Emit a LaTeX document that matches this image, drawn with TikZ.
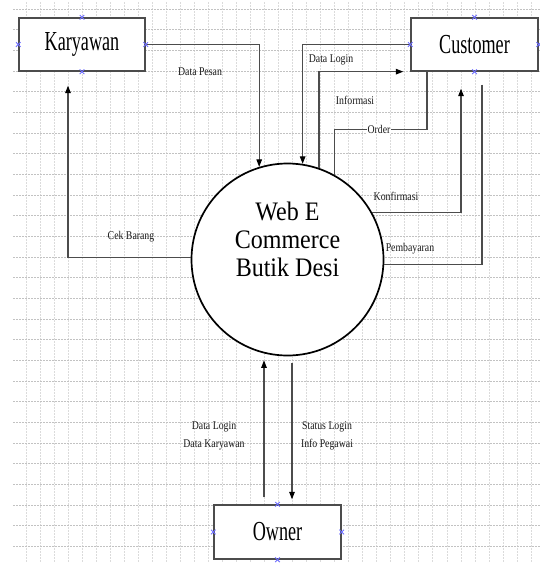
\documentclass[tikz,border=0pt]{standalone}
\usepackage{fontspec}
\setmainfont{Liberation Serif}
\usetikzlibrary{arrows.meta,calc}
\definecolor{gridH}{gray}{0.76}
\definecolor{gridV}{gray}{0.86}
\definecolor{linec}{gray}{0.3}
\definecolor{markc}{RGB}{110,110,255}
\newcommand{\boxfont}{\fontsize{27.5}{30}\selectfont}
\newcommand{\circfont}{\fontsize{26.7}{28}\selectfont}
\newcommand{\lblfont}{\fontsize{11.8}{18}\selectfont}
\newcommand{\bx}[1]{\scalebox{0.66}[1]{#1}}
\newcommand{\lb}[1]{\scalebox{0.83}[1]{#1}}
\begin{document}
\begin{tikzpicture}[x=1pt,y=-1pt,
  entity/.style={draw=linec,line width=1.3pt,fill=white,minimum width=127pt,minimum height=53pt,inner sep=0pt,font=\boxfont},
  proc/.style={circle,draw=black,line width=1.7pt,fill=white,minimum size=192pt,inner sep=0pt,font=\circfont},
  flow/.style={draw=linec,line width=1.1pt,-{Triangle[length=7.5pt,width=5.5pt,color=black]}},
  plain/.style={draw=linec,line width=1.1pt},
  lbl/.style={inner sep=1pt,font=\lblfont,align=center,text=black!90},
  gh/.style={draw=gridH,line width=0.8pt,dash pattern=on 2pt off 1pt},
  gv/.style={draw=gridV,line width=0.8pt,dash pattern=on 2pt off 1pt},
  xm/.style={draw=markc,line width=0.9pt},
]
\useasboundingbox (0,0) rectangle (540,563);
\fill[white] (0,0) rectangle (540,563);
% grid
\foreach \k in {0,...,36} \draw[gv] ({26+14.03*\k},2) -- ({26+14.03*\k},563);
\foreach \k in {0,...,26} \draw[gh] (13,{9+20.67*\k}) -- (540,{9+20.67*\k});

% entities and process
\node[entity,minimum width=126pt] (kar) at (82,44.5) {\bx{Karyawan}};
\node[entity] (cust) at (474.5,44.5) {\bx{Customer}};
\node[entity,minimum height=54pt] (own) at (277.5,532) {\bx{Owner}};
\node[proc] (circ) at (287.5,259.5) {\scalebox{0.9}[1]{\begin{tabular}{@{}c@{}}Web E\\Commerce\\Butik Desi\\[34pt]\end{tabular}}};

% connectors
\draw[flow] (kar.east) -| (circ.107.3);
\draw[flow] (circ.179) -| ($(kar.south)+(-14,14)$);
\draw[flow] (cust.west) -| (circ.81.3);
\draw[flow] (circ.71.5) |- ($(cust.south west)+(-7,0)$);
\draw[plain] ($(cust.south)+(-47.5,0)$) -- ++(0,58) -| (circ.61.7);
\draw[flow] (circ.29) -| ($(cust.south)+(-13.5,17)$);
\draw[plain] ($(cust.south)+(7.5,13)$) |- (circ.-3.9);
\draw[flow] ($(own.north)+(-13.5,-7)$) -- ($(circ.south)+(-23.5,4)$);
\draw[flow] ($(circ.south)+(4.5,6.5)$) -- ($(own.north)+(14.5,-5)$);

% labels
\node[lbl] (lpesan) at (200,72) {\lb{Data Pesan}};
\node[lbl] (lcek) at (131,237) {\lb{Cek Barang}};
\node[lbl] (llogin) at (331,60) {\lb{Data Login}};
\node[lbl] (linfo) at (355,100) {\lb{Informasi}};
\node[lbl,fill=white] (lorder) at (379,129) {\lb{Order}};
\node[lbl] (lkonf) at (396,196) {\lb{Konfirmasi}};
\node[lbl] (lbayar) at (410,249) {\lb{Pembayaran}};
\node[lbl] (lowin) at (214,435) {\lb{\begin{tabular}{@{}c@{}}Data Login\\Data Karyawan\end{tabular}}};
\node[lbl] (lowout) at (327,435) {\lb{\begin{tabular}{@{}c@{}}Status Login\\Info Pegawai\end{tabular}}};

% connection point markers
\foreach \n in {kar,cust,own}
  \foreach \a in {north,south,east,west}
    \draw[xm] (\n.\a) ++(-2.3,-2.3) -- ++(4.6,4.6) ++(0,-4.6) -- ++(-4.6,4.6);
\end{tikzpicture}
\end{document}
